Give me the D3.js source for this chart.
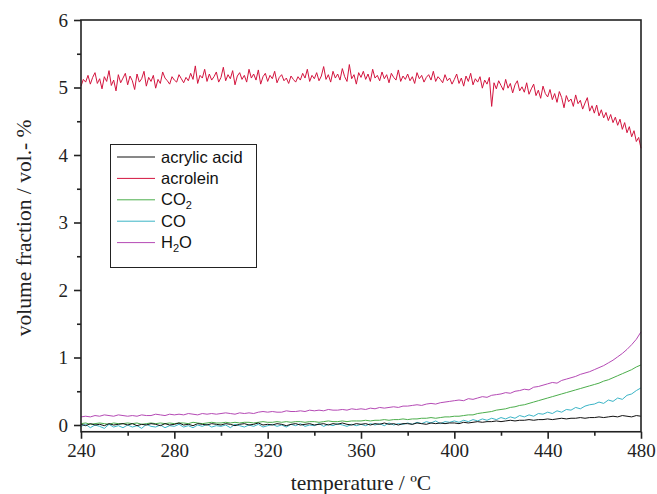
<!DOCTYPE html>
<html><head><meta charset="utf-8">
<script src="https://cdn.jsdelivr.net/npm/d3@7/dist/d3.min.js"></script>
<style>body{margin:0;background:#fff}svg{display:block}</style>
</head><body>
<svg id="c" width="657" height="494"></svg>
<script>
// Temperatures: acrolein at 1 °C steps, other species at 2 °C steps (240..480)
const acrolein = [
5.02,5.12,5.08,5.18,5.05,5.15,5.22,5.06,5.13,4.98,
5.16,5.09,5.25,5.03,5.11,4.95,5.19,5.07,5.14,5.21,
5.04,5.17,5.10,4.97,5.20,5.08,5.13,5.24,5.02,5.15,
5.09,5.18,4.99,5.12,5.06,5.23,5.14,5.10,5.05,5.16,
5.11,5.08,5.19,5.13,5.07,5.15,5.10,5.21,5.12,5.32,
5.06,5.18,5.14,5.27,5.09,5.20,5.11,5.16,5.23,5.08,
5.15,5.30,5.10,5.19,5.13,5.25,5.04,5.17,5.22,5.12,
5.18,5.08,5.27,5.14,5.20,5.11,5.26,5.05,5.16,5.21,
5.09,5.18,5.13,5.24,5.07,5.15,5.19,5.10,5.14,5.06,
5.17,5.12,5.08,5.16,5.11,5.21,5.14,5.27,5.09,5.18,
5.13,5.22,5.10,5.17,5.31,5.12,5.19,5.08,5.24,5.14,
5.20,5.11,5.28,5.16,5.09,5.34,5.13,5.19,5.05,5.22,
5.15,5.24,5.12,5.20,5.09,5.27,5.14,5.18,5.10,5.23,
5.13,5.19,5.07,5.21,5.15,5.11,5.26,5.09,5.17,5.12,
5.20,5.10,5.16,5.06,5.22,5.13,5.18,5.08,5.15,5.19,
5.11,5.24,5.09,5.16,5.12,5.07,5.19,5.10,5.14,5.05,
5.12,5.20,5.06,5.14,5.02,5.17,5.09,5.21,5.04,5.13,
5.08,5.16,4.99,5.11,5.05,5.15,4.72,5.07,4.98,5.10,
5.03,4.96,5.12,4.99,5.06,4.92,5.04,5.10,4.95,5.01,
4.93,5.07,4.90,4.98,5.05,4.88,4.96,4.84,5.02,4.91,
4.86,4.97,4.82,4.91,4.78,4.94,4.85,4.70,4.88,4.79,
4.83,4.72,4.89,4.76,4.81,4.68,4.77,4.85,4.65,4.73,
4.62,4.74,4.58,4.67,4.55,4.63,4.51,4.60,4.48,4.56,
4.44,4.53,4.38,4.48,4.33,4.42,4.27,4.36,4.20,4.26,4.10];
const acrylicAcid = [
0.01,-0.01,0.02,0.00,0.01,-0.01,0.02,0.00,0.01,0.02,
0.00,0.02,-0.01,0.01,0.00,0.02,0.01,-0.01,0.02,0.00,
0.01,0.03,0.00,0.01,-0.01,0.02,0.01,0.00,0.02,0.01,
0.00,0.02,0.01,-0.01,0.01,0.02,0.00,0.01,0.03,0.00,
0.01,0.00,0.02,0.01,-0.01,0.01,0.02,0.00,0.01,0.02,
0.00,0.01,0.02,0.00,0.02,0.01,0.03,0.01,0.00,0.02,
0.01,0.02,0.00,0.02,0.01,0.03,0.01,0.02,0.00,0.02,
0.02,0.01,0.03,0.02,0.01,0.03,0.02,0.03,0.02,0.03,
0.03,0.02,0.04,0.03,0.04,0.05,0.04,0.05,0.05,0.06,
0.05,0.06,0.07,0.06,0.07,0.07,0.08,0.07,0.08,0.08,
0.09,0.08,0.09,0.10,0.09,0.10,0.10,0.11,0.10,0.11,
0.11,0.12,0.11,0.12,0.13,0.12,0.14,0.13,0.12,0.14,0.13];
const co2 = [
0.02,0.03,0.01,0.02,0.03,0.02,0.01,0.03,0.02,0.02,
0.03,0.02,0.03,0.01,0.02,0.03,0.02,0.03,0.02,0.03,
0.02,0.03,0.03,0.02,0.04,0.03,0.02,0.03,0.04,0.03,
0.03,0.04,0.03,0.04,0.03,0.04,0.04,0.03,0.04,0.05,
0.04,0.04,0.05,0.04,0.05,0.04,0.05,0.05,0.04,0.05,
0.05,0.04,0.05,0.06,0.05,0.05,0.06,0.05,0.06,0.06,
0.06,0.07,0.06,0.07,0.07,0.08,0.07,0.08,0.08,0.09,
0.08,0.09,0.09,0.10,0.10,0.11,0.10,0.11,0.12,0.12,
0.13,0.13,0.14,0.15,0.15,0.17,0.18,0.19,0.20,0.22,
0.23,0.24,0.26,0.27,0.29,0.30,0.32,0.34,0.36,0.38,
0.40,0.42,0.44,0.46,0.48,0.50,0.52,0.54,0.56,0.58,
0.60,0.62,0.65,0.67,0.70,0.73,0.76,0.79,0.82,0.86,0.89];
const co = [
-0.02,0.01,-0.04,0.00,-0.02,-0.05,0.01,-0.03,-0.01,-0.04,
0.00,-0.03,-0.01,-0.05,0.01,-0.02,-0.03,0.00,-0.04,-0.01,
-0.02,0.01,-0.03,-0.01,-0.04,0.00,-0.02,0.01,-0.03,-0.01,
-0.02,0.00,-0.04,0.01,-0.01,-0.03,0.00,-0.02,0.01,-0.03,
-0.01,0.01,-0.02,0.00,-0.03,0.01,-0.01,0.02,-0.02,0.00,
-0.01,0.02,-0.02,0.01,-0.01,0.02,0.00,-0.02,0.01,-0.01,
0.01,-0.01,0.02,0.00,0.02,-0.01,0.03,0.00,0.02,0.01,
0.03,0.01,0.04,0.02,0.05,0.03,0.06,0.02,0.05,0.04,
0.06,0.04,0.07,0.05,0.08,0.06,0.09,0.07,0.10,0.08,
0.11,0.09,0.12,0.10,0.14,0.12,0.15,0.13,0.17,0.16,
0.19,0.17,0.21,0.19,0.23,0.22,0.26,0.24,0.28,0.30,
0.31,0.34,0.32,0.37,0.35,0.40,0.38,0.44,0.46,0.51,0.55];
const h2o = [
0.12,0.13,0.12,0.14,0.13,0.15,0.14,0.13,0.15,0.14,
0.13,0.14,0.13,0.15,0.14,0.14,0.16,0.15,0.14,0.16,
0.15,0.16,0.15,0.17,0.16,0.15,0.17,0.16,0.17,0.16,
0.17,0.18,0.17,0.16,0.18,0.17,0.18,0.17,0.19,0.20,
0.19,0.20,0.19,0.19,0.21,0.20,0.20,0.21,0.20,0.22,
0.21,0.22,0.21,0.23,0.22,0.22,0.23,0.22,0.24,0.23,
0.24,0.23,0.25,0.24,0.26,0.25,0.26,0.27,0.26,0.28,
0.28,0.29,0.30,0.29,0.31,0.32,0.31,0.33,0.34,0.35,
0.36,0.37,0.36,0.39,0.38,0.40,0.42,0.41,0.44,0.45,
0.46,0.48,0.47,0.50,0.51,0.53,0.52,0.56,0.57,0.59,
0.61,0.63,0.62,0.66,0.68,0.70,0.72,0.75,0.77,0.79,
0.82,0.85,0.88,0.92,0.96,1.01,1.06,1.12,1.19,1.27,1.38];
const xTicks = [240,280,320,360,400,440,480];
const yTicks = [0,1,2,3,4,5,6];
const legendNames = ["acrylic acid","acrolein","CO2","CO","H2O"];
const colors = ["#111111","#d3143e","#4cae4c","#3ab4c6","#b54ab5"];

const svg = d3.select("#c");
const L=81, R=641, T=20, B=431.75;
const x = d3.scaleLinear().domain([240,480]).range([L,R]);
const y = d3.scaleLinear().domain([-0.1,6]).range([B,T]);

const mk = (arr, step) => arr.map((v,i)=>[240+i*step, v]);
const series = [
  {d: mk(co2,2), c: colors[2]},
  {d: mk(co,2), c: colors[3]},
  {d: mk(h2o,2), c: colors[4]},
  {d: mk(acrolein,1), c: colors[1]},
  {d: mk(acrylicAcid,2), c: colors[0]}
];
const line = d3.line().x(d=>x(d[0])).y(d=>y(d[1]));
const g = svg.append("g");
series.forEach(s=>{
  g.append("path").attr("d", line(s.d)).attr("fill","none")
   .attr("stroke", s.c).attr("stroke-width",1).attr("stroke-linejoin","round");
});

const serif = "'Liberation Serif','Times New Roman',serif";
const axisCol = "#222";
// frame
svg.append("rect").attr("x",L).attr("y",T).attr("width",R-L).attr("height",B-T)
  .attr("fill","none").attr("stroke",axisCol).attr("stroke-width",1.6);

// x axis
const xa = svg.append("g").attr("transform",`translate(0,${B})`)
  .call(d3.axisBottom(x).tickValues(xTicks).tickSize(7).tickPadding(5).tickFormat(d3.format("d")));
const xm = svg.append("g").attr("transform",`translate(0,${B})`)
  .call(d3.axisBottom(x).tickValues(d3.range(260,480,40)).tickSize(4).tickFormat(""));
// y axis
const ya = svg.append("g").attr("transform",`translate(${L},0)`)
  .call(d3.axisLeft(y).tickValues(yTicks).tickSize(7).tickPadding(6).tickFormat(d3.format("d")));
const ym = svg.append("g").attr("transform",`translate(${L},0)`)
  .call(d3.axisLeft(y).tickValues(d3.range(0.5,6,1)).tickSize(4).tickFormat(""));
[xa,xm,ya,ym].forEach(a=>{
  a.select(".domain").remove();
  a.selectAll("line").attr("stroke",axisCol).attr("stroke-width",1.6);
  a.selectAll("text").attr("font-family",serif).attr("font-size",19).attr("fill","#222");
});

svg.append("text").attr("x",(L+R)/2).attr("y",490).attr("text-anchor","middle")
  .attr("font-family",serif).attr("font-size",21.5).attr("fill","#222").text("temperature / ºC");
svg.append("text").attr("transform",`translate(31,${(T+B)/2 + 2}) rotate(-90)`).attr("text-anchor","middle")
  .attr("font-family",serif).attr("font-size",21.5).attr("fill","#222").text("volume fraction / vol.- %");

// legend
const lg = svg.append("g");
lg.append("rect").attr("x",110.5).attr("y",144.5).attr("width",146).attr("height",123)
  .attr("fill","#fff").attr("stroke","#222").attr("stroke-width",1);
const sans = "'Liberation Sans',Arial,sans-serif";
legendNames.forEach((n,i)=>{
  const yy = 157 + i*21.4;
  lg.append("line").attr("x1",117).attr("x2",155).attr("y1",yy).attr("y2",yy)
    .attr("stroke",colors[i]).attr("stroke-width",1);
  const t = lg.append("text").attr("x",161).attr("y",yy+5.5).attr("font-family",sans)
    .attr("font-size",16.5).attr("fill","#111");
  const m = n.match(/^(\D+)(2)(\D*)$/);
  if (m && (n==="CO2"||n==="H2O")) {
    t.append("tspan").text(m[1]);
    t.append("tspan").attr("font-size",11).attr("dy",4).text(m[2]);
    if (m[3]) t.append("tspan").attr("dy",-4).text(m[3]);
  } else t.text(n);
});
</script>
</body></html>
